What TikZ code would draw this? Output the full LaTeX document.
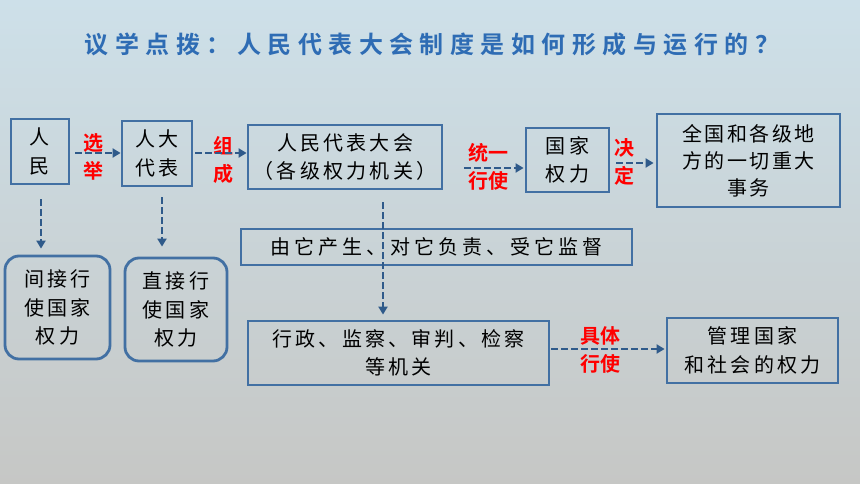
\documentclass[tikz,border=0pt]{standalone}
\usepackage{fontspec}
\usetikzlibrary{arrows.meta}
\newfontfamily\cjk{Noto Sans CJK SC}
\newfontfamily\cjkb{Noto Sans CJK SC Bold}
\definecolor{boxc}{RGB}{66,112,163}
\definecolor{arrc}{RGB}{47,90,138}
\definecolor{titc}{RGB}{46,108,180}
\definecolor{bgtop}{RGB}{205,224,233}
\definecolor{bgmid}{RGB}{222,230,232}
\definecolor{bgbot}{RGB}{198,199,197}
\tikzset{
  boxn/.style={draw=boxc, line width=2.8pt, inner sep=0pt, align=center,
    font=\cjk\addfontfeature{LetterSpace=16}\fontsize{20}{28.5}\selectfont, text=black},
  rbox/.style={boxn, rounded corners=14pt},
  redl/.style={inner sep=0pt, align=center, text=red,
    font=\cjkb\fontsize{20}{28}\selectfont},
  arr/.style={draw=arrc, line width=2.8pt, dash pattern=on 6.5pt off 3.5pt,
    -{Triangle[length=8pt,width=9pt]}},
}
\begin{document}
\begin{tikzpicture}[x=1pt,y=-1pt]
\useasboundingbox (0,0) rectangle (860,484);
\shade[top color=bgtop, middle color=bgmid, bottom color=bgbot] (0,0) rectangle (860,484);
% title
\node[font=\cjkb\addfontfeature{LetterSpace=27}\fontsize{24}{26}\selectfont, text=titc] (title) at (432,44) {议学点拨：人民代表大会制度是如何形成与运行的？};
% boxes
\node[boxn, minimum width=58pt, minimum height=65pt] (p) at (40,151.5) {人\\民};
\node[boxn, minimum width=70pt, minimum height=65pt] (d) at (157,153.5) {人大\\代表};
\node[boxn, minimum width=194pt, minimum height=64pt] (rd) at (345,157) {人民代表大会\\（各级权力机关）};
\node[boxn, minimum width=83pt, minimum height=64pt] (gj) at (567.5,160) {国家\\权力};
\node[boxn, minimum width=183pt, minimum height=93pt, font=\cjk\addfontfeature{LetterSpace=12}\fontsize{20}{27}\selectfont] (qg) at (748.5,160.5) {全国和各级地\\方的一切重大\\事务};
\node[boxn, minimum width=391pt, minimum height=36pt, font=\cjk\addfontfeature{LetterSpace=20}\fontsize{20}{27}\selectfont] (yt) at (436.5,247) {由它产生、对它负责、受它监督};
\node[boxn, minimum width=301pt, minimum height=64pt] (xz) at (398.5,353) {行政、监察、审判、检察\\等机关};
\node[boxn, minimum width=171pt, minimum height=65pt] (gl) at (752.5,350.5) {管理国家\\和社会的权力};
\node[rbox, minimum width=105pt, minimum height=103pt] (r1) at (57.5,307.5) {间接行\\使国家\\权力};
\node[rbox, minimum width=102pt, minimum height=103pt] (r2) at (176,309.5) {直接行\\使国家\\权力};
% red labels
\node[redl] (l1) at (93,157) {选\\举};
\node[redl] (l2) at (223,160) {组\\成};
\node[redl] (l3) at (488,167) {统一\\行使};
\node[redl] (l4) at (624,162) {决\\定};
\node[redl] (l5) at (600,350) {具体\\行使};
% arrows
\draw[arr, shorten <=5pt] (p.east |- 0,153) -- (d.west |- 0,153);
\draw[arr, shorten <=2pt] (d.east |- 0,153) -- (rd.west |- 0,153);
\draw[arr, shorten <=21pt, shorten >=1pt] (rd.east |- 0,168) -- (gj.west |- 0,168);
\draw[arr, shorten <=6pt, shorten >=2pt] (gj.east |- 0,163) -- (qg.west |- 0,163);
\draw[arr, shorten <=1pt, shorten >=1pt] (xz.east |- 0,349) -- (gl.west |- 0,349);
\draw[arr, shorten <=14pt, shorten >=6pt] (p.south -| 41,0) -- (r1.north -| 41,0);
\draw[arr, shorten <=10pt, shorten >=10pt] (d.south -| 162,0) -- (r2.north -| 162,0);
\draw[arr, shorten <=12pt, shorten >=5pt] (rd.south -| 383,0) -- (xz.north -| 383,0);
\end{tikzpicture}
\end{document}
